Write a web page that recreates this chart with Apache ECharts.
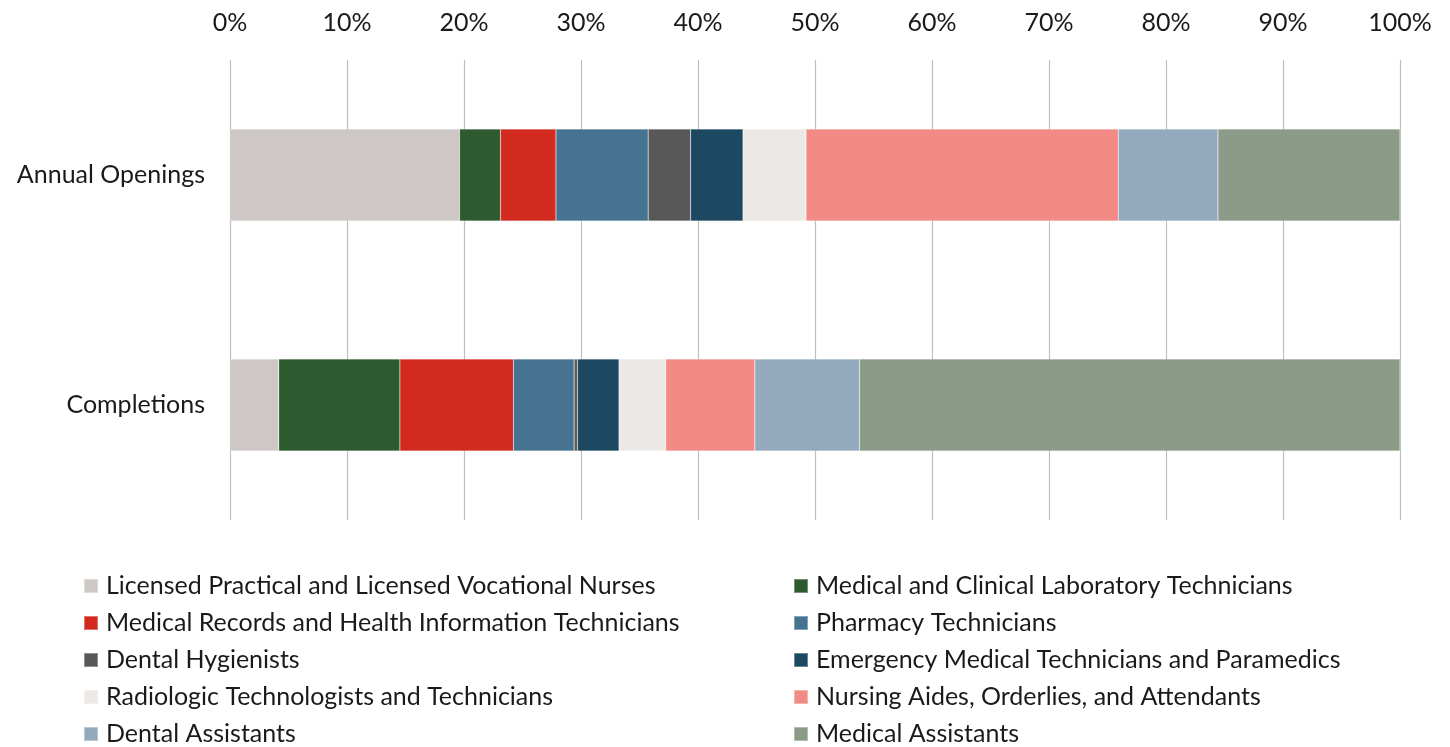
<!DOCTYPE html>
<html>
<head>
<meta charset="utf-8">
<script src="https://cdn.jsdelivr.net/npm/echarts@6/dist/echarts.min.js"></script>
<style>
  html, body { margin: 0; padding: 0; background: #fff; }
  #chart { width: 1450px; height: 747px; }
</style>
</head>
<body>
<div id="chart"></div>
<script>
const categories = ['Annual Openings', 'Completions']

const occupations = [
  'Licensed Practical and Licensed Vocational Nurses',
  'Medical and Clinical Laboratory Technicians',
  'Medical Records and Health Information Technicians',
  'Pharmacy Technicians',
  'Dental Hygienists',
  'Emergency Medical Technicians and Paramedics',
  'Radiologic Technologists and Technicians',
  'Nursing Aides, Orderlies, and Attendants',
  'Dental Assistants',
  'Medical Assistants',
]

// share of total, percent
const annualOpenings = [19.62, 3.50, 4.74, 7.88, 3.63, 4.48, 5.38, 26.69, 8.52, 15.56]
const completions = [4.17, 10.35, 9.71, 5.18, 0.29, 3.55, 3.99, 7.62, 8.95, 46.19]

const colors = ['#cdc8c5', '#2e5a2f', '#d32a20', '#457391', '#585858',
  '#1d4862', '#ece8e5', '#f28a86', '#93aabe', '#8c9b87']

const FONT = 'Lato'
const TEXT = '#1a1a1a'

const chart = echarts.init(document.getElementById('chart'))

const series = occupations.map((name, i) => ({
  name,
  type: 'bar',
  stack: 'total',
  barWidth: '40%',
  itemStyle: { color: colors[i], borderColor: 'rgba(255,255,255,0.35)', borderWidth: 0.5 },
  data: [annualOpenings[i], completions[i]],
}))

const legendText = { fontFamily: FONT, fontSize: 25, color: TEXT, lineHeight: 26, padding: [0, 0, 0, 3] }

function legendColumn(left, parity) {
  return {
    orient: 'vertical',
    left,
    top: 573,
    height: 174,
    padding: 0,
    itemWidth: 14,
    itemHeight: 14,
    itemGap: 11,
    icon: 'rect',
    textStyle: legendText,
    data: occupations.filter((_, i) => i % 2 === parity),
  }
}

chart.setOption({
  animation: false,
  color: colors,
  grid: { left: 230, right: 50, top: 60, height: 460 },
  xAxis: {
    type: 'value',
    position: 'top',
    min: 0,
    max: 100,
    interval: 10,
    axisLine: { show: false },
    axisTick: { show: false },
    axisLabel: { formatter: '{value}%', fontFamily: FONT, fontSize: 25, color: TEXT, margin: 25 },
    splitLine: { show: true, lineStyle: { color: '#bfbfbf', width: 1.2 } },
  },
  yAxis: {
    type: 'category',
    inverse: true,
    data: categories,
    axisLine: { show: false },
    axisTick: { show: false },
    axisLabel: { fontFamily: FONT, fontSize: 25, color: TEXT, margin: 25 },
  },
  legend: [legendColumn(83, 0), legendColumn(793, 1)],
  series,
})
</script>
</body>
</html>
